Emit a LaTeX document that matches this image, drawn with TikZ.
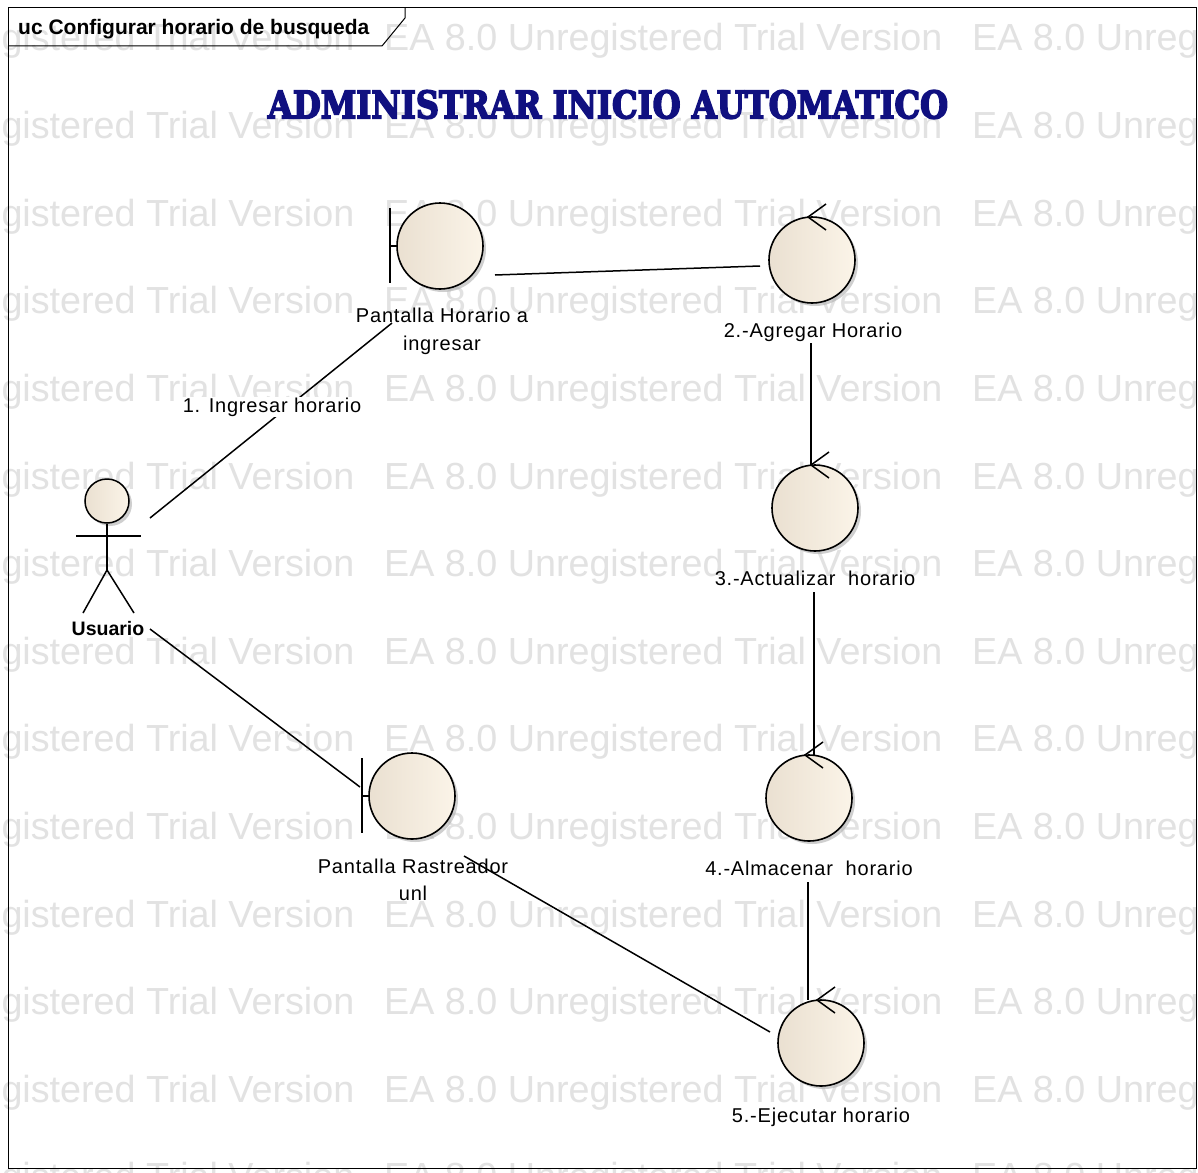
\documentclass[tikz,border=0pt]{standalone}
\usepackage{fontspec}
\usepackage{graphicx}
\usetikzlibrary{calc}

\newfontfamily\lblfont[LetterSpace=4]{Liberation Sans}
\newfontfamily\wmfont{Liberation Sans}
\newfontfamily\titlefont[BoldFeatures={FakeBold=4.5}]{DejaVu Serif}

\definecolor{titleblue}{RGB}{16,16,128}
\definecolor{wmgray}{RGB}{226,226,226}
\definecolor{objL}{RGB}{234,224,209}
\definecolor{objR}{RGB}{251,244,232}
\definecolor{shadowgray}{RGB}{175,175,175}

\tikzset{
  objcircle/.style={circle, minimum size=86pt, inner sep=0pt, draw=black,
    line width=1.6pt, left color=objL, right color=objR},
  shadowdisc/.style={fill=shadowgray, opacity=0.6},
  link/.style={line width=1.5pt, draw=black},
  glyph/.style={line width=1.5pt, draw=black},
  lbl/.style={font=\lblfont\fontsize{20}{24}\selectfont, anchor=base, inner sep=0pt},
  wm/.style={font=\wmfont\fontsize{37.7}{40}\selectfont, text=wmgray, anchor=base west, inner sep=0pt},
}

% control object: shadow, circle, chevron on top
\newcommand\ctlobj[3]{%
  \fill[shadowdisc] (#2+3,#3+3) circle (43);
  \node[objcircle] (#1) at (#2,#3) {};
  \coordinate (#1top) at (#2-4,#3-43);
  \draw[glyph] ($(#1top)+(18,-13)$) -- (#1top) -- ($(#1top)+(18,13)$);
}
% boundary object: shadow, circle, bar with stub on the left
\newcommand\bndobj[3]{%
  \fill[shadowdisc] (#2+3,#3+3) circle (43);
  \node[objcircle] (#1) at (#2,#3) {};
  \draw[glyph] (#2-50,#3-38) -- (#2-50,#3+37);
  \draw[glyph] (#2-50,#3) -- (#1.west);
}

\begin{document}
\begin{tikzpicture}[x=1pt,y=-1pt]
\useasboundingbox (0,0) rectangle (1198,1172);
\fill[white] (0,0) rectangle (1198,1172);

% repeated background text
\begin{scope}
  \clip (0,0) rectangle (1198,1172);
  \foreach \k in {0,...,13}{
    \pgfmathsetmacro\by{51+87.6*\k}
    \foreach \sx in {-204,384,972}{
      \node[wm] (wm-\k-\sx) at (\sx,\by) {EA 8.0 Unregistered Trial Version};
    }
  }
\end{scope}

% diagram frame and name tab
\draw[line width=1pt] (8,8) rectangle (1196,1168);
\draw[line width=1pt] (8,46) -- (382,46) -- (405,18) -- (405,8);
\node[font=\wmfont\bfseries\fontsize{21}{24}\selectfont, anchor=base west, inner sep=0pt]
  (tabname) at (18,35) {uc Configurar horario de busqueda};

% title
\node[inner sep=0pt, text=titleblue] (title) at (608,104.5)
  {\resizebox{680pt}{28pt}{\titlefont\bfseries ADMINISTRAR INICIO AUTOMATICO}};

% actor
\fill[shadowdisc] (110,504) circle (22);
\node[circle, minimum size=44pt, inner sep=0pt, draw=black, line width=1.5pt,
  left color=objL, right color=objR] (head) at (107,501) {};
\coordinate (hip) at (107,570);
\draw[glyph] (head.south) -- (hip);
\draw[glyph] (76,536) -- (141,536);
\draw[glyph] (83,613) -- (hip) -- (134,613);
\node[font=\wmfont\bfseries\fontsize{19.5}{23}\selectfont, anchor=base, inner sep=0pt]
  (usuario) at (108,635) {Usuario};

% objects
\bndobj{pha}{440}{246}
\bndobj{pru}{412}{796}
\ctlobj{agr}{812}{260}
\ctlobj{act}{815}{508}
\ctlobj{alm}{809}{798}
\ctlobj{eje}{821}{1043}

% labels
\node[lbl] (pha1) at (442,322) {Pantalla Horario a};
\node[lbl] (pha2) at (442,350) {ingresar};
\node[lbl] (agrl) at (813,337) {2.-Agregar Horario};
\node[lbl] (actl) at (815,585) {3.-Actualizar\ \ horario};
\node[lbl] (pru1) at (413,873) {Pantalla Rastreador};
\node[lbl] (pru2) at (413,900) {unl};
\node[lbl] (alml) at (809,875) {4.-Almacenar\ \ horario};
\node[lbl] (ejel) at (821,1122) {5.-Ejecutar horario};

% connector end points
\coordinate (a1) at (150,518);
\coordinate (p1) at (392,323);
\coordinate (a2) at (150,629);
\coordinate (p2) at (360,787);
\coordinate (ph) at (495,275);
\coordinate (ag) at (760,266);
\coordinate (agb) at (811,343);
\coordinate (acb) at (814,592);
\coordinate (alb) at (808,882);
\coordinate (pr) at (464,856);
\coordinate (ej) at (770,1032);

% connectors
\draw[link] (a1) -- (p1);
\draw[link] (ph) -- (ag);
\draw[link] (agb) -- (agb |- acttop);
\draw[link] (acb) -- (acb |- almtop);
\draw[link] (alb) -- (alb |- ejetop);
\draw[link] (a2) -- (p2);
\draw[link] (pr) -- (ej);

\node[lbl, fill=white, inner sep=1pt] (msg1) at (272,412) {1. Ingresar horario};
\end{tikzpicture}
\end{document}
